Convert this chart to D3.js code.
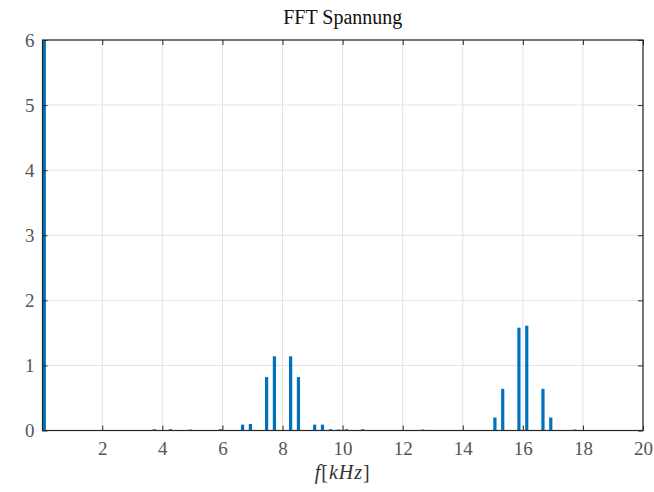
<!DOCTYPE html>
<html>
<head>
<meta charset="utf-8">
<script src="https://cdn.jsdelivr.net/npm/d3@7"></script>
<style>
  body { margin: 0; background: #fff; }
  svg { display: block; }
  text { font-family: "Liberation Serif", "Times New Roman", serif; }
</style>
</head>
<body>
<div id="chart"></div>
<script>
    //Spectrum bins (kHz) and magnitudes
    var freqs = [0.07, 3.73, 4.27, 4.93, 5.93, 6.67, 6.93, 7.47, 7.73, 8.27, 8.53, 9.07, 9.33,
                 9.6, 9.87, 10.13, 10.67, 12.67, 15.07, 15.33, 15.87, 16.13, 16.67, 16.93, 17.73];
    var magnitudes = [6.5, 0.02, 0.02, 0.015, 0.02, 0.09, 0.1, 0.82, 1.14, 1.14, 0.82, 0.09, 0.09,
                      0.02, 0.015, 0.02, 0.02, 0.015, 0.2, 0.64, 1.58, 1.61, 0.64, 0.2, 0.015];
    var xTicks = [2, 4, 6, 8, 10, 12, 14, 16, 18, 20];
    var yTicks = [0, 1, 2, 3, 4, 5, 6];

    var data = freqs.map((f, i) => ({f: f, v: magnitudes[i]}));

    var width = 654, height = 492;
    var margin = {left: 42.5, right: 11, top: 40, bottom: 61.5};
    var binWidth = 0.1067;
    var serif = "'Liberation Serif', 'Times New Roman', serif";

    var svg = d3.select("#chart")
        .append("svg")
        .attr("width", width)
        .attr("height", height)
        .attr("font-family", serif);

    var xScale = d3.scaleLinear()
        .domain([0.01, 20])
        .range([margin.left, width - margin.right]);

    var yScale = d3.scaleLinear()
        .domain([0, 6])
        .range([height - margin.bottom, margin.top]);

    //clip to the axes box
    svg.append("clipPath")
        .attr("id", "plotClip")
        .append("rect")
            .attr("x", margin.left)
            .attr("y", margin.top)
            .attr("width", width - margin.left - margin.right)
            .attr("height", height - margin.top - margin.bottom);

    //grid lines
    var grid = svg.append("g").attr("class", "grid");

    grid.selectAll("line.gx")
        .data(xTicks)
        .enter()
        .append("line")
            .attr("x1", d => xScale(d))
            .attr("x2", d => xScale(d))
            .attr("y1", margin.top)
            .attr("y2", height - margin.bottom)
            .style("stroke", "#e3e3e3")
            .style("stroke-width", 1);

    grid.selectAll("line.gy")
        .data(yTicks)
        .enter()
        .append("line")
            .attr("x1", margin.left)
            .attr("x2", width - margin.right)
            .attr("y1", d => yScale(d))
            .attr("y2", d => yScale(d))
            .style("stroke", "#e3e3e3")
            .style("stroke-width", 1);

    //bars
    svg.append("g")
        .attr("class", "bars")
        .attr("clip-path", "url(#plotClip)")
        .selectAll("rect")
        .data(data)
        .enter()
        .append("rect")
            .attr("x", d => xScale(d.f - binWidth / 2))
            .attr("y", d => yScale(d.v))
            .attr("width", xScale(binWidth) - xScale(0))
            .attr("height", d => yScale(0) - yScale(d.v))
            .attr("fill", "#0072BD");

    //axes (ticks inward, MATLAB style)
    var tickCol = "#262626";
    var xAxis = d3.axisBottom(xScale).tickValues(xTicks).tickSize(-5).tickPadding(11).tickFormat(d3.format("d"));
    var yAxis = d3.axisLeft(yScale).tickValues(yTicks).tickSize(-5).tickPadding(8).tickFormat(d3.format("d"));

    var gx = svg.append("g")
        .attr("transform", "translate(0," + (height - margin.bottom) + ")")
        .call(xAxis);
    var gy = svg.append("g")
        .attr("transform", "translate(" + margin.left + ",0)")
        .call(yAxis);
    var gxTop = svg.append("g")
        .attr("transform", "translate(0," + margin.top + ")")
        .call(d3.axisTop(xScale).tickValues(xTicks).tickSize(-5).tickFormat(""));
    var gyRight = svg.append("g")
        .attr("transform", "translate(" + (width - margin.right) + ",0)")
        .call(d3.axisRight(yScale).tickValues(yTicks).tickSize(-5).tickFormat(""));

    [gx, gy, gxTop, gyRight].forEach(g => {
        g.attr("font-family", serif).attr("font-size", 19);
        g.select(".domain").remove();
        g.selectAll(".tick line").style("stroke", tickCol).style("stroke-width", 1);
        g.selectAll(".tick text").style("fill", "#555");
    });

    //box
    svg.append("rect")
        .attr("x", margin.left)
        .attr("y", margin.top)
        .attr("width", width - margin.left - margin.right)
        .attr("height", height - margin.top - margin.bottom)
        .attr("fill", "none")
        .attr("stroke", tickCol)
        .attr("stroke-width", 1.2);

    //title
    svg.append("text")
        .attr("x", (margin.left + width - margin.right) / 2)
        .attr("y", 24)
        .attr("text-anchor", "middle")
        .style("font-size", "20px")
        .style("fill", "#111")
        .text("FFT Spannung");

    //x label: f[kHz]
    var xl = svg.append("text")
        .attr("x", (margin.left + width - margin.right) / 2)
        .attr("y", 479)
        .attr("text-anchor", "middle")
        .style("font-size", "20px")
        .style("letter-spacing", "1px")
        .style("fill", "#333");
    xl.append("tspan").style("font-style", "italic").text("f");
    xl.append("tspan").text("[");
    xl.append("tspan").style("font-style", "italic").text("kHz");
    xl.append("tspan").text("]");
</script>
</body>
</html>
